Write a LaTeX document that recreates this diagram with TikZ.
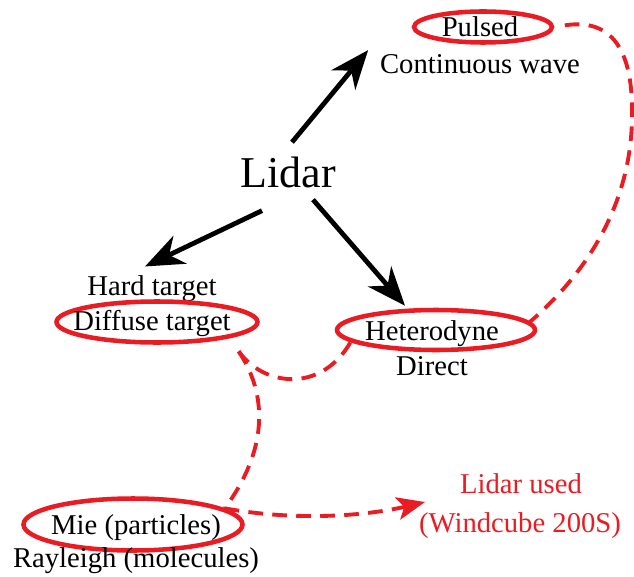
\documentclass[tikz,border=0pt]{standalone}
\usepackage{fontspec}
\setmainfont{Liberation Serif}
\usepackage{tikz}
\usetikzlibrary{arrows.meta,shapes.geometric}
\definecolor{lidred}{RGB}{232,28,34}

\begin{document}
\begin{tikzpicture}[
    x=0.75pt, y=-0.75pt,
    lbl/.style={
        font=\fontsize{21.5}{25}\selectfont,
        anchor=base,
        inner sep=2pt
    },
    oval/.style={
        ellipse,
        draw=lidred,
        line width=3.4pt,
        inner sep=0pt
    },
    arrow/.style={-{Stealth[length=29pt,width=23pt,inset=9pt]}, line width=3.6pt},
    redlink/.style={draw=lidred, line width=2.9pt, dash pattern=on 11pt off 7pt},
    redarrow/.style={redlink, -{Stealth[length=21pt,width=17pt,inset=5pt]}}
]
\useasboundingbox (0,0) rectangle (634,577);

\node[lbl, font=\fontsize{33}{38}\selectfont] (lidar) at (288.5,188) {Lidar};

\node[oval, minimum width=103.5pt, minimum height=23.25pt] (ovpulsed) at (483,27) {};
\node[lbl] (pulsed) at (480,37) {Pulsed};
\node[lbl] (cw) at (480,74) {Continuous wave};

\node[lbl] (hard) at (152,295) {Hard target};
\node[oval, minimum width=150.75pt, minimum height=30.75pt] (ovdiffuse) at (157,322) {};
\node[lbl] (diffuse) at (152,330) {Diffuse target};

\node[oval, minimum width=148.5pt, minimum height=30pt] (ovhetero) at (436,330) {};
\node[lbl] (hetero) at (432,340) {Heterodyne};
\node[lbl] (direct) at (432,375) {Direct};

\node[oval, minimum width=164.25pt, minimum height=39pt] (ovmie) at (133,524.5) {};
\node[lbl] (mie) at (136,534) {Mie (particles)};
\node[lbl] (rayleigh) at (136,567) {Rayleigh (molecules)};

\node[lbl, text=lidred] (used) at (521,493) {Lidar used};
\node[lbl, text=lidred] (windcube) at (520,532) {(Windcube 200S)};
\coordinate (usedtip) at (425,502);

\draw[arrow] ([shift={(3.5,-12.3)}]lidar.north) -- ([shift={(-9,-2)}]cw.north west);
\draw[arrow] ([shift={(-26.5,19.3)}]lidar.south) -- ([shift={(-7,-5.7)}]hard.north);
\draw[arrow] ([shift={(24.5,8.3)}]lidar.south) -- ([shift={(-31,-2)}]ovhetero.north);

\draw[redlink, shorten <=8pt] (ovpulsed.east) .. controls (612,18) and (633,50) .. (632,115)
    .. controls (632,200) and (590,270) .. (ovhetero.5);
\draw[redlink, shorten <=12pt] (ovdiffuse.south east) .. controls (262,385) and (320,395) .. (ovhetero.-172);
\draw[redlink, shorten <=12pt] (ovdiffuse.south east) .. controls (268,395) and (268,450) .. (ovmie.10);
\draw[redarrow] (ovmie.10) .. controls (300,522) and (370,515) .. (usedtip);

\end{tikzpicture}
\end{document}
